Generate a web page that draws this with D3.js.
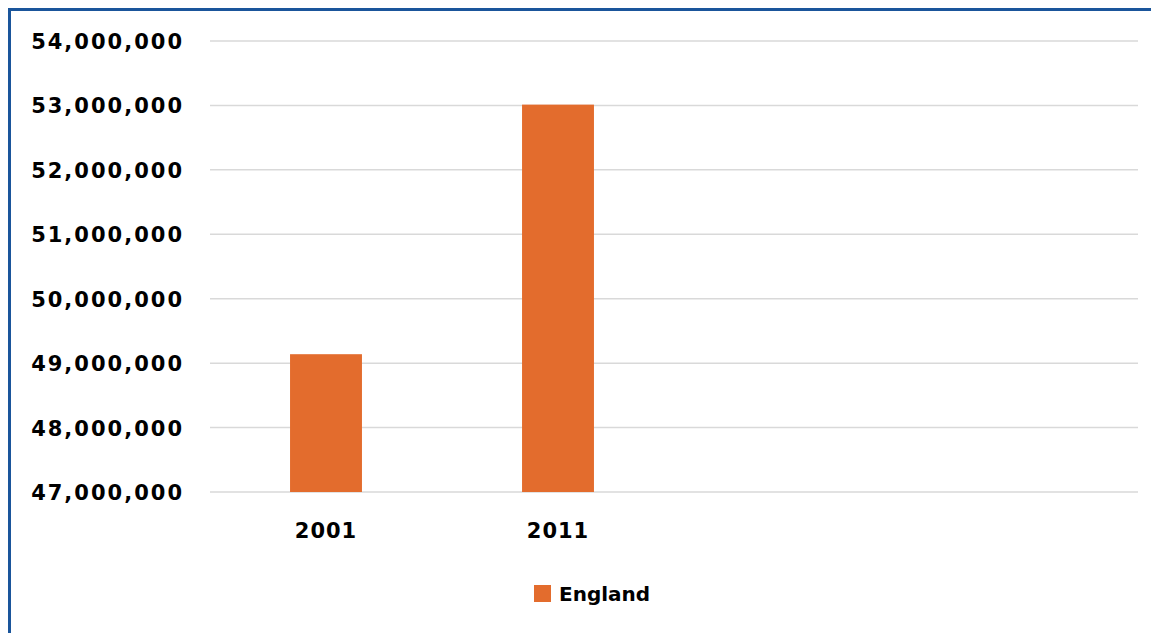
<!DOCTYPE html>
<html><head><meta charset="utf-8">
<script src="https://cdn.jsdelivr.net/npm/d3@7"></script>
<style>
body{margin:0;background:#fff;}
text{font-family:"Comic Sans MS","DejaVu Sans",sans-serif;font-weight:bold;fill:#000;}
</style></head>
<body><svg id="c" width="1151" height="633"></svg>
<script>
const categories = ["2001","2011","",""];
const seriesName = "England";
const values = [49138831, 53012456, null, null];
const yTicks = [47000000,48000000,49000000,50000000,51000000,52000000,53000000,54000000];

const svg = d3.select("#c");
const W = 1151, H = 633;
const m = {left:210, right:13, top:41, bottom:141};
const x = d3.scaleBand().domain(d3.range(categories.length)).range([m.left, W-m.right]).paddingInner(0.69).paddingOuter(0.345);
const y = d3.scaleLinear().domain([47000000,54000000]).range([H-m.bottom, m.top]);

// border
svg.append("path").attr("d",`M9.5,${H+5} V9.5 H${W+5}`).attr("fill","none").attr("stroke","#1a559b").attr("stroke-width",3);

// grid
svg.append("g").selectAll("line").data(yTicks).join("line")
  .attr("x1",m.left).attr("x2",W-m.right)
  .attr("y1",d=>y(d)).attr("y2",d=>y(d))
  .attr("stroke","#d9d9d9").attr("stroke-width",1.5);

// y axis labels
const yAxis = d3.axisLeft(y).tickValues(yTicks).tickFormat(d3.format(",")).tickSize(0).tickPadding(26);
const gy = svg.append("g").attr("transform",`translate(${m.left},0)`).call(yAxis);
gy.select(".domain").remove();
gy.selectAll("text").style("font-size","21px").style("letter-spacing","2px").attr("dy","0.36em");

// bars
svg.append("g").selectAll("rect").data(values.map((v,i)=>({v,i})).filter(d=>d.v!=null)).join("rect")
  .attr("x",d=>x(d.i)).attr("width",x.bandwidth())
  .attr("y",d=>y(d.v)).attr("height",d=>y(47000000)-y(d.v))
  .attr("fill","#e36c2d");

// x axis labels
const xAxis = d3.axisBottom(x).tickFormat(i=>categories[i]).tickSize(0).tickPadding(31);
const gx = svg.append("g").attr("transform",`translate(0,${H-m.bottom})`).call(xAxis);
gx.select(".domain").remove();
gx.selectAll("text").style("font-size","21px").style("letter-spacing","1px");

// legend
const lg = svg.append("g");
lg.append("rect").attr("x",534).attr("y",585).attr("width",17).attr("height",17).attr("fill","#e36c2d");
lg.append("text").attr("x",559).attr("y",601).style("font-size","20px").text(seriesName);
</script></body></html>
